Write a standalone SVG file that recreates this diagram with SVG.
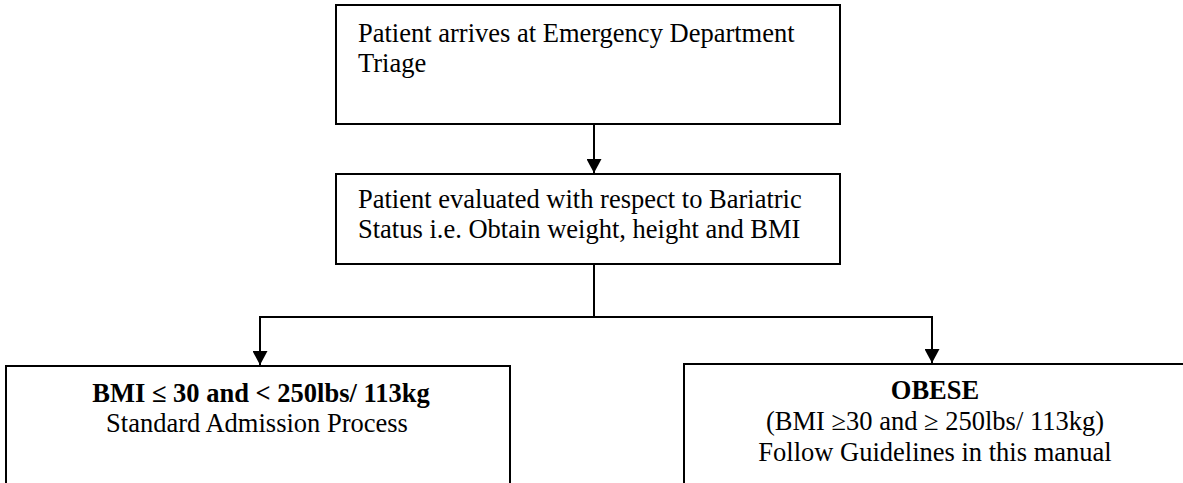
<svg xmlns="http://www.w3.org/2000/svg" width="1183" height="483" viewBox="0 0 1183 483">
  <style>
    .box { fill: #ffffff; stroke: #000000; stroke-width: 2; }
    .txt { font-family: "Liberation Serif", "Times New Roman", serif; font-size: 26.5px; fill: #000000; }
    .bold { font-weight: bold; }
    .mid { text-anchor: middle; }
    .link { fill: none; stroke: #000000; stroke-width: 2; }
  </style>
  <defs>
    <marker id="arrow" viewBox="0 0 14 15" refX="14" refY="7.5" markerWidth="14" markerHeight="15" markerUnits="userSpaceOnUse" orient="auto">
      <path d="M0,0 L14,7.5 L0,15 Z" fill="#000000"/>
    </marker>
  </defs>
  <rect width="1183" height="483" fill="#ffffff"/>

  <g id="connectors">
    <path class="link" d="M594,124 V173" marker-end="url(#arrow)"/>
    <path class="link" d="M594,264 V317"/>
    <path class="link" d="M260,317 H932"/>
    <path class="link" d="M260,316 V365" marker-end="url(#arrow)"/>
    <path class="link" d="M932,316 V363" marker-end="url(#arrow)"/>
  </g>

  <g id="node-arrival">
    <rect class="box" x="336" y="5" width="504" height="119"/>
    <text class="txt" x="358" y="42">Patient arrives at Emergency Department</text>
    <text class="txt" x="358" y="72">Triage</text>
  </g>

  <g id="node-evaluation">
    <rect class="box" x="336" y="174" width="504" height="90"/>
    <text class="txt" x="358" y="208">Patient evaluated with respect to Bariatric</text>
    <text class="txt" x="358" y="238">Status i.e. Obtain weight, height and BMI</text>
  </g>

  <g id="node-standard">
    <rect class="box" x="6" y="366" width="504" height="130"/>
    <text class="txt bold mid" x="261" y="402">BMI ≤ 30 and &lt; 250lbs/ 113kg</text>
    <text class="txt mid" x="257" y="432">Standard Admission Process</text>
  </g>

  <g id="node-obese">
    <rect class="box" x="684" y="364" width="520" height="130"/>
    <text class="txt bold mid" x="935" y="399">OBESE</text>
    <text class="txt mid" x="935" y="430">(BMI ≥30 and ≥ 250lbs/ 113kg)</text>
    <text class="txt mid" x="935" y="461">Follow Guidelines in this manual</text>
  </g>
</svg>
